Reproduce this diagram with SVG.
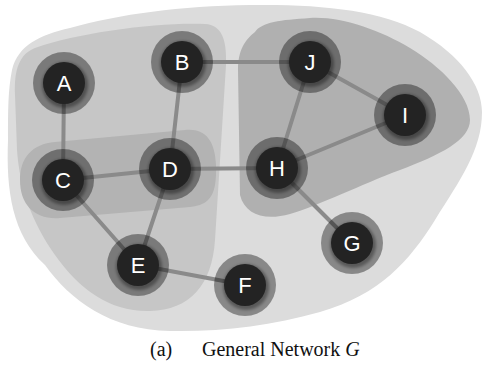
<svg xmlns="http://www.w3.org/2000/svg" width="485" height="366" viewBox="0 0 485 366">
  <style>
    .outer { fill: #dcdcdc; }
    .group { fill: #c6c6c6; }
    .band { fill: #b3b3b3; }
    .group-r { fill: #b0b0b0; }
    .edge { stroke: #8a8a8a; stroke-width: 4; stroke-linecap: round; fill: none; }
    .ring { fill: #000; fill-opacity: 0.38; }
    .shade { fill: #000; fill-opacity: 0.35; filter: url(#soft); }
    .core { fill: #232323; }
    .label { font-family: "Liberation Sans", Arial, sans-serif; font-size: 22px; fill: #fff; text-anchor: middle; }
    .caption { font-family: "Liberation Serif", "Times New Roman", serif; font-size: 20px; fill: #111; }
  </style>
  <defs>
    <filter id="soft" x="-30%" y="-30%" width="160%" height="160%">
      <feGaussianBlur stdDeviation="1.5"/>
    </filter>
  </defs>

  <rect width="485" height="366" fill="#fff"/>

  <!-- regions -->
  <g id="regions">
    <path class="outer" d="M 12,70 C 18,45 40,35 70,28 C 120,14 180,6 250,5 C 320,4 380,10 420,32 C 460,55 482,85 482,112 C 482,150 460,180 435,220 C 410,260 380,295 320,312 C 270,326 220,332 170,331 C 110,330 70,300 45,265 C 12,235 6,190 8,140 C 8,110 8,90 12,70 Z"/>
    <path class="group" d="M 35,48 C 80,32 160,22 205,24 C 222,25 227,40 226,65 L 215,240 C 212,285 190,310 150,311 C 110,312 80,290 55,255 C 32,222 20,190 17,150 L 15,95 C 14,68 20,54 35,48 Z"/>
    <path class="band" d="M 55,142 L 185,130 C 205,128 215,140 216,165 C 217,195 210,205 190,207 L 60,218 C 35,220 20,205 20,180 C 20,158 32,144 55,142 Z"/>
    <path class="group-r" d="M 255,32 C 262,22 280,20 310,18 C 340,16 380,30 410,48 C 440,66 470,95 470,120 C 470,140 440,155 400,170 C 360,185 320,205 290,214 C 265,221 245,215 240,195 L 238,70 C 238,50 245,40 255,32 Z"/>
  </g>

  <!-- connectors -->
  <g id="edges">
    <line class="edge" x1="64" y1="83" x2="63" y2="180"/>
    <line class="edge" x1="182" y1="62" x2="170" y2="169"/>
    <line class="edge" x1="182" y1="62" x2="310" y2="62"/>
    <line class="edge" x1="63" y1="180" x2="170" y2="169"/>
    <line class="edge" x1="63" y1="180" x2="138" y2="265"/>
    <line class="edge" x1="170" y1="169" x2="138" y2="265"/>
    <line class="edge" x1="170" y1="169" x2="277" y2="168"/>
    <line class="edge" x1="138" y1="265" x2="245" y2="285"/>
    <line class="edge" x1="277" y1="168" x2="310" y2="62"/>
    <line class="edge" x1="277" y1="168" x2="405" y2="115"/>
    <line class="edge" x1="277" y1="168" x2="352" y2="243"/>
    <line class="edge" x1="310" y1="62" x2="405" y2="115"/>
  </g>

  <!-- nodes -->
  <g id="node-A" transform="translate(64,83)">
    <circle class="ring" r="31"/><circle class="shade" cx="1" cy="2" r="23"/><circle class="core" r="21"/>
    <text class="label" y="8">A</text>
  </g>
  <g id="node-B" transform="translate(182,62)">
    <circle class="ring" r="31"/><circle class="shade" cx="1" cy="2" r="23"/><circle class="core" r="21"/>
    <text class="label" y="8">B</text>
  </g>
  <g id="node-C" transform="translate(63,180)">
    <circle class="ring" r="31"/><circle class="shade" cx="1" cy="2" r="23"/><circle class="core" r="21"/>
    <text class="label" y="8">C</text>
  </g>
  <g id="node-D" transform="translate(170,169)">
    <circle class="ring" r="31"/><circle class="shade" cx="1" cy="2" r="23"/><circle class="core" r="21"/>
    <text class="label" y="8">D</text>
  </g>
  <g id="node-E" transform="translate(138,265)">
    <circle class="ring" r="31"/><circle class="shade" cx="1" cy="2" r="23"/><circle class="core" r="21"/>
    <text class="label" y="8">E</text>
  </g>
  <g id="node-F" transform="translate(245,285)">
    <circle class="ring" r="31"/><circle class="shade" cx="1" cy="2" r="23"/><circle class="core" r="21"/>
    <text class="label" y="8">F</text>
  </g>
  <g id="node-G" transform="translate(352,243)">
    <circle class="ring" r="31"/><circle class="shade" cx="1" cy="2" r="23"/><circle class="core" r="21"/>
    <text class="label" y="8">G</text>
  </g>
  <g id="node-H" transform="translate(277,168)">
    <circle class="ring" r="31"/><circle class="shade" cx="1" cy="2" r="23"/><circle class="core" r="21"/>
    <text class="label" y="8">H</text>
  </g>
  <g id="node-I" transform="translate(405,115)">
    <circle class="ring" r="31"/><circle class="shade" cx="1" cy="2" r="23"/><circle class="core" r="21"/>
    <text class="label" y="8">I</text>
  </g>
  <g id="node-J" transform="translate(310,62)">
    <circle class="ring" r="31"/><circle class="shade" cx="1" cy="2" r="23"/><circle class="core" r="21"/>
    <text class="label" y="8">J</text>
  </g>

  <!-- caption -->
  <text class="caption" x="150" y="356">(a)</text>
  <text class="caption" x="202" y="356">General Network <tspan font-style="italic">G</tspan></text>
</svg>
